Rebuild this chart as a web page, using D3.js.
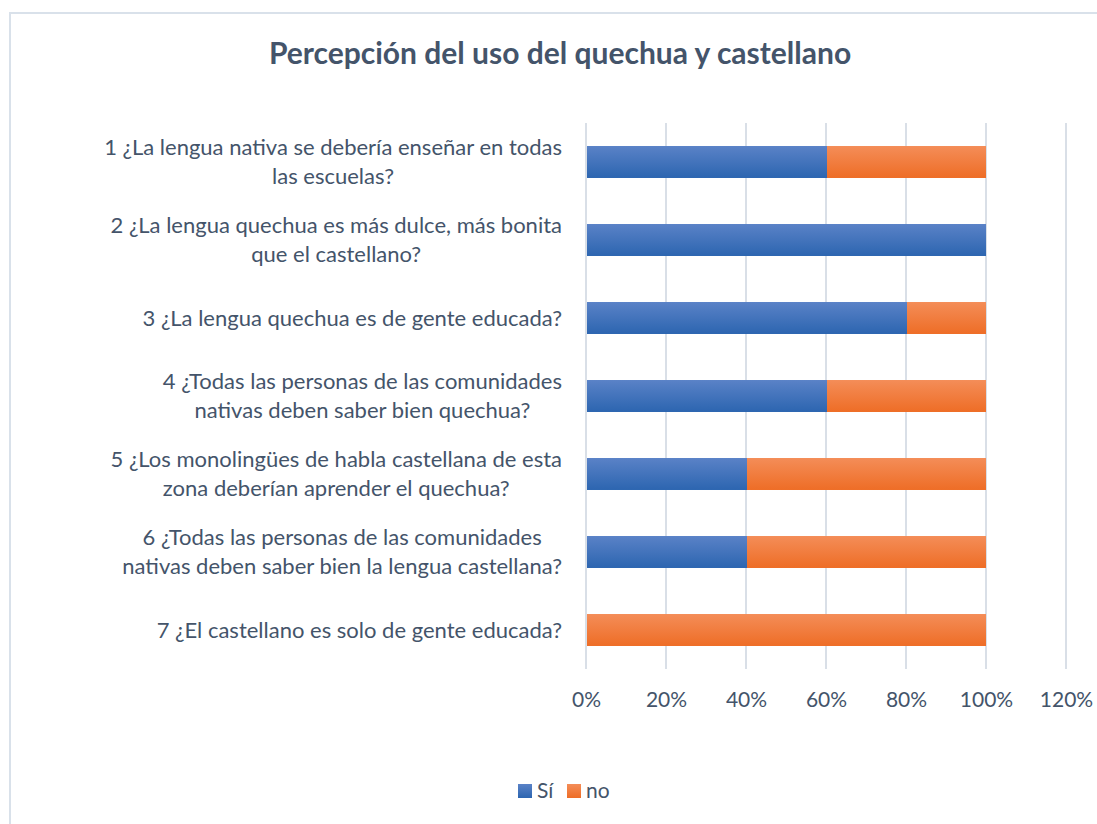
<!DOCTYPE html>
<html lang="es">
<head>
<meta charset="UTF-8">
<title>Percepción del uso del quechua y castellano</title>
<script src="https://d3js.org/d3.v7.min.js"></script>
<style>
  body { margin: 0; background: #fff; }
  svg text { font-family: Lato, "Open Sans", sans-serif; fill: #44546a; }
</style>
</head>
<body>
<div id="chart"></div>
<script>
// data
var categories = [
  ["1 ¿La lengua nativa se debería enseñar en todas", "las escuelas?"],
  ["2 ¿La lengua quechua es más dulce, más bonita", "que el castellano?"],
  ["3 ¿La lengua quechua es de gente educada?"],
  ["4 ¿Todas las personas de las comunidades", "nativas deben saber bien quechua?"],
  ["5 ¿Los monolingües de habla castellana de esta", "zona deberían aprender el quechua?"],
  ["6 ¿Todas las personas de las comunidades", "nativas deben saber bien la lengua castellana?"],
  ["7 ¿El castellano es solo de gente educada?"]
];
var si = [0.6, 1.0, 0.8, 0.6, 0.4, 0.4, 0.0];
var no = [0.4, 0.0, 0.2, 0.4, 0.6, 0.6, 1.0];
var seriesNames = ["Sí", "no"];
var xTicks = [0, 0.2, 0.4, 0.6, 0.8, 1.0, 1.2];

var W = 1097, H = 824;
var svg = d3.select("#chart").append("svg")
  .attr("width", W).attr("height", H);

// gradients like the office style
var defs = svg.append("defs");
function grad(id, top, bottom) {
  var g = defs.append("linearGradient").attr("id", id)
    .attr("x1", 0).attr("y1", 0).attr("x2", 0).attr("y2", 1);
  g.append("stop").attr("offset", "0%").attr("stop-color", top);
  g.append("stop").attr("offset", "100%").attr("stop-color", bottom);
}
grad("gBlue", "#5a82c7", "#2c65b0");
grad("gOrange", "#f48d58", "#ee6d26");
var fills = ["url(#gBlue)", "url(#gOrange)"];

// chart border
svg.append("rect")
  .attr("x", 10).attr("y", 13).attr("width", W + 20).attr("height", H + 20)
  .attr("fill", "none").attr("stroke", "#d9e1ea").attr("stroke-width", 2);

svg.append("text")
  .attr("x", 560).attr("y", 53)
  .attr("dy", "0.35em")
  .attr("text-anchor", "middle")
  .attr("font-size", 30).attr("font-weight", "bold")
  .text("Percepción del uso del quechua y castellano");

var x = d3.scaleLinear().domain([0, 1.2]).range([586, 1066]);
var y = d3.scaleBand().domain(d3.range(categories.length))
  .range([123, 669]).paddingInner(0.59).paddingOuter(0.295);

// gridlines
svg.append("g").selectAll("line")
  .data(xTicks).join("line")
  .attr("x1", d => x(d)).attr("x2", d => x(d))
  .attr("y1", 123).attr("y2", 669)
  .attr("stroke", "#d9dfe7").attr("stroke-width", 2);

// stacked bars
var stackData = categories.map((c, i) => ({ i: i, s: si[i], n: no[i] }));
var stacked = d3.stack().keys(["s", "n"])(stackData);
svg.append("g").selectAll("g")
  .data(stacked).join("g")
  .attr("fill", (d, k) => fills[k])
  .selectAll("rect")
  .data(d => d).join("rect")
  .attr("x", d => x(d[0]) + 1)
  .attr("width", d => Math.max(0, x(d[1]) - x(d[0]) - (d[1] >= 1 ? 1 : 0)))
  .attr("y", d => y(d.data.i))
  .attr("height", y.bandwidth());

// category labels, centered lines, block right-aligned
var labelRight = 562, lineH = 29;
var lab = svg.append("g");
categories.forEach(function (lines, i) {
  var cy = y(i) + y.bandwidth() / 2;
  var t = lab.append("text").attr("font-size", 22);
  lines.forEach(function (s, j) {
    t.append("tspan").attr("y", cy + (j - (lines.length - 1) / 2) * lineH)
      .attr("dy", "0.35em").text(s);
  });
  var maxW = 0;
  t.selectAll("tspan").each(function () {
    maxW = Math.max(maxW, this.getComputedTextLength());
  });
  t.attr("text-anchor", "middle");
  t.selectAll("tspan").attr("x", labelRight - maxW / 2);
});

// x tick labels
var xAxis = svg.append("g").attr("transform", "translate(0,689)")
  .call(d3.axisBottom(x).tickValues(xTicks).tickFormat(d3.format(".0%")).tickSize(0));
xAxis.select(".domain").remove();
xAxis.selectAll("text").attr("font-size", 21).attr("fill", "#44546a")
  .style("font-family", "Lato, 'Open Sans', sans-serif");

// legend
var leg = svg.append("g");
var legX = [518, 567];
seriesNames.forEach(function (n, k) {
  leg.append("rect").attr("x", legX[k]).attr("y", 784)
    .attr("width", 14).attr("height", 14).attr("fill", fills[k]);
  leg.append("text").attr("x", legX[k] + 19).attr("y", 791)
    .attr("dy", "0.35em").attr("font-size", 21).text(n);
});
</script>
</body>
</html>
